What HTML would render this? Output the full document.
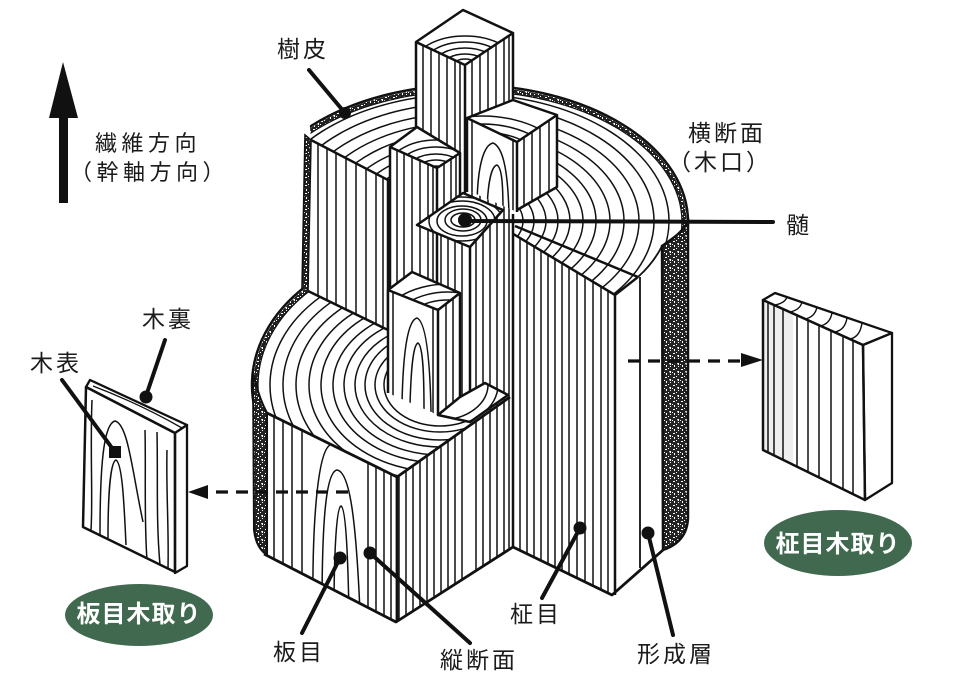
<!DOCTYPE html>
<html><head><meta charset="utf-8">
<style>
html,body{margin:0;padding:0;background:#fff;}
svg{display:block;}
text{font-family:"Liberation Sans","Noto Sans CJK JP",sans-serif;fill:#1b1b1b;}
</style></head><body>
<svg width="972" height="696" viewBox="0 0 972 696" xmlns="http://www.w3.org/2000/svg">
<defs>
<pattern id="stip" width="8" height="8" patternUnits="userSpaceOnUse">
<rect width="8" height="8" fill="#222"/>
<path d="M1,1h2v1h-2z M5,3h2v2h-1z M2,5h1v2h-1z M6,6h1v1h-1z M4,0h1v1h-1z M0,4h1v1h-1z" fill="#fff"/>
</pattern>
<clipPath id="cTop"><polygon points="300,0 972,0 972,696 388,696 388,180 311,140"/></clipPath>
<clipPath id="cLow"><polygon points="225,240 308,291 388,330 388,392 438,415 460,397 485,383 508,395 463,430 397,477 267,413 225,400"/></clipPath>
<clipPath id="cCC"><polygon points="388,240 417,225 470,247 503,210 513,214 513,547 396,622 397,477 388,470"/></clipPath>
<clipPath id="cR2"><polygon points="505,229 615,295 612,595 513,547 513,233"/></clipPath>
<clipPath id="cRF"><polygon points="615,295 638,277 650,265 662,246 662,549 612,595"/></clipPath>
<clipPath id="cTL"><polygon points="416,42 465,65 465,205 416,205"/></clipPath>
<clipPath id="cTR"><polygon points="465,65 513,33 513,214 465,205"/></clipPath>
<clipPath id="cTT"><polygon points="416,42 463,10 513,33 465,65"/></clipPath>
<clipPath id="cML"><polygon points="390,147 437,168 437,300 390,300"/></clipPath>
<clipPath id="cMR"><polygon points="437,168 460,153 460,196 437,211"/></clipPath>
<clipPath id="cMT"><polygon points="390,147 417,127 460,153 437,168"/></clipPath>
<clipPath id="cUL"><polygon points="467,118 517,142 517,212 467,190"/></clipPath>
<clipPath id="cUR"><polygon points="517,142 557,115 557,187 517,210"/></clipPath>
<clipPath id="cUT"><polygon points="467,118 513,100 557,115 517,142"/></clipPath>
<clipPath id="cPi"><polygon points="417,225 463,193 503,210 470,247"/></clipPath>
<clipPath id="cLB"><polygon points="311,140 388,180 388,330 308,291"/></clipPath>
<clipPath id="cPL"><polygon points="388,290 438,310 438,415 388,393"/></clipPath>
<clipPath id="cPR"><polygon points="438,310 460,293 460,397 438,415"/></clipPath>
<clipPath id="cPT"><polygon points="388,290 412,272 460,293 438,310"/></clipPath>
<clipPath id="cLd"><polygon points="438,415 460,397 485,383 508,395 470,422"/></clipPath>
<clipPath id="cF1"><polygon points="267,413 397,477 396,622 264,554"/></clipPath>
<clipPath id="cBL"><polygon points="86,387 175,433 175,572 83,527"/></clipPath>
<clipPath id="cBR"><polygon points="763,300 863,345 865,500 763,450"/></clipPath>
</defs>

<!-- ===== TOP DISC ===== -->
<g clip-path="url(#cTop)">
<ellipse cx="468" cy="222" rx="220" ry="137" fill="#fff" stroke="#111" stroke-width="2.5"/>
<ellipse cx="468" cy="222" rx="216.5" ry="133.5" fill="none" stroke="url(#stip)" stroke-width="4"/>
<ellipse cx="468" cy="222" rx="214" ry="131" fill="none" stroke="#111" stroke-width="1.3"/>
<g fill="none" stroke="#111" stroke-width="1.5">
<ellipse cx="466" cy="221" rx="203" ry="127"/>
<ellipse cx="466" cy="221" rx="188" ry="118"/>
<ellipse cx="466" cy="221" rx="173" ry="108"/>
<ellipse cx="466" cy="221" rx="158" ry="99"/>
<ellipse cx="466" cy="221" rx="144" ry="90"/>
<ellipse cx="466" cy="221" rx="130" ry="81"/>
<ellipse cx="466" cy="221" rx="117" ry="73"/>
<ellipse cx="466" cy="221" rx="104" ry="65"/>
<ellipse cx="466" cy="221" rx="92" ry="58"/>
<ellipse cx="466" cy="221" rx="80" ry="50"/>
<ellipse cx="466" cy="221" rx="68" ry="43"/>
<ellipse cx="466" cy="221" rx="57" ry="36"/>
<ellipse cx="466" cy="221" rx="46" ry="29"/>
</g>
</g>

<!-- ===== RIGHT SIDE FACE + BARK ===== -->
<polygon points="615,295 638,277 650,265 662,246 662,549 612,595" fill="#fff"/>
<path d="M640,277 V568" stroke="#111" stroke-width="1.8" fill="none"/>
<path d="M662,246 C670,240 681,234 688,222 L688,518 Q687,542 663,550 Z" fill="url(#stip)" stroke="#111" stroke-width="2.5"/>
<path d="M638,277 C648,268 656,258 662,246" fill="none" stroke="#111" stroke-width="1.8"/>

<!-- ===== R2 (柾目 face) ===== -->
<polygon points="505,229 615,295 612,595 513,547 513,233" fill="#fff"/>
<g clip-path="url(#cR2)" stroke="#111" stroke-width="1.5" fill="none">
<path d="M520,220V610M527,220V610M534,220V610M541,220V610M548,220V610M555,220V610M562,220V610M569,220V610M577,220V610M585,220V610M593,220V610M601,220V610M608,220V610"/>
</g>
<path d="M505,229 L615,295 L638,277 M515,226 L638,277 M615,295 V595" fill="none" stroke="#111" stroke-width="2.5"/>

<!-- ===== CENTRAL COLUMN ===== -->
<polygon points="388,240 417,225 470,247 503,210 513,214 513,547 396,622 397,477 388,470" fill="#fff"/>
<g clip-path="url(#cCC)" stroke="#111" stroke-width="1.5" fill="none">
<path d="M392,200V630M399,200V630M406,200V630M413,200V630M420,200V630M427,200V630M434,200V630M441,200V630M448,200V630M455,200V630M462,200V630M476,200V630M483,200V630M490,200V630M497,200V630M504,200V630M509,200V630"/>
</g>
<path d="M513,214 V547 M470,247 V400" fill="none" stroke="#111" stroke-width="2.5"/>

<!-- ===== TALL POST T ===== -->
<polygon points="416,42 465,65 465,205 416,205" fill="#fff"/>
<polygon points="465,65 513,33 513,214 465,205" fill="#fff"/>
<polygon points="416,42 463,10 513,33 465,65" fill="#fff"/>
<g stroke="#111" stroke-width="1.5" fill="none">
<path clip-path="url(#cTL)" d="M423,30V220M431,30V220M439,30V220M447,30V220M455,30V220M460,30V220"/>
<path clip-path="url(#cTR)" d="M472,20V220M480,20V220M488,20V220M496,20V220M504,20V220M509,20V220"/>
<g clip-path="url(#cTT)">
<ellipse cx="465" cy="66" rx="12" ry="7"/><ellipse cx="465" cy="66" rx="22" ry="12"/><ellipse cx="465" cy="66" rx="32" ry="18"/><ellipse cx="465" cy="66" rx="42" ry="24"/><ellipse cx="465" cy="66" rx="52" ry="30"/>
</g>
</g>
<path d="M416,42 L463,10 L513,33 L465,65 Z M465,65 V200 M416,42 V130 M513,33 V102" fill="none" stroke="#111" stroke-width="2.5" stroke-linejoin="round"/>

<!-- ===== MIDDLE-LEFT POST ===== -->
<polygon points="390,147 437,168 437,300 390,300" fill="#fff"/>
<polygon points="437,168 460,153 460,196 437,211" fill="#fff"/>
<polygon points="390,147 417,127 460,153 437,168" fill="#fff"/>
<g stroke="#111" stroke-width="1.5" fill="none">
<path clip-path="url(#cML)" d="M397,140V310M404,140V310M412,140V310M420,140V310M428,140V310M433,140V310"/>
<path clip-path="url(#cMR)" d="M444,140V220M451,140V220M456,140V220"/>
<g clip-path="url(#cMT)">
<ellipse cx="436" cy="172" rx="10" ry="6"/><ellipse cx="436" cy="172" rx="20" ry="12"/><ellipse cx="436" cy="172" rx="30" ry="18"/><ellipse cx="436" cy="172" rx="40" ry="25"/><ellipse cx="436" cy="172" rx="50" ry="32"/>
</g>
</g>
<path d="M390,147 L417,127 L460,153 L437,168 Z M390,147 V290 M437,168 V300 M460,153 V196" fill="none" stroke="#111" stroke-width="2.5" stroke-linejoin="round"/>

<!-- ===== UPPER-RIGHT POST ===== -->
<polygon points="467,118 517,142 517,212 467,190" fill="#fff"/>
<polygon points="517,142 557,115 557,187 517,210" fill="#fff"/>
<polygon points="467,118 513,100 557,115 517,142" fill="#fff"/>
<g stroke="#111" stroke-width="1.5" fill="none">
<path clip-path="url(#cUL)" d="M472,110V220M513,110V220M477,210 C477,165 484,145 493,143 C503,147 508,170 509,215 M487,210 C488,180 492,166 497,165 C502,168 503,185 503,212"/>
<path clip-path="url(#cUR)" d="M524,100V220M532,100V220M540,100V220M549,100V220"/>
<g clip-path="url(#cUT)">
<ellipse cx="482" cy="170" rx="40" ry="24"/><ellipse cx="482" cy="170" rx="52" ry="31"/><ellipse cx="482" cy="170" rx="64" ry="38"/><ellipse cx="482" cy="170" rx="76" ry="46"/><ellipse cx="482" cy="170" rx="88" ry="54"/>
</g>
</g>
<path d="M467,118 L513,100 L557,115 L517,142 Z M467,118 V192 M517,142 V212 M557,115 V187 L517,210" fill="none" stroke="#111" stroke-width="2.5" stroke-linejoin="round"/>

<!-- ===== PITH ===== -->
<polygon points="417,225 463,193 503,210 470,247" fill="#fff"/>
<g clip-path="url(#cPi)" stroke="#111" stroke-width="1.5" fill="none">
<ellipse cx="463" cy="220" rx="12" ry="7"/><ellipse cx="463" cy="220" rx="18" ry="11"/><ellipse cx="462" cy="221" rx="25" ry="15"/><ellipse cx="462" cy="221" rx="33" ry="20"/><ellipse cx="461" cy="222" rx="42" ry="25"/><ellipse cx="460" cy="222" rx="52" ry="31"/>
</g>
<polygon points="417,225 463,193 503,210 470,247" fill="none" stroke="#111" stroke-width="2.5" stroke-linejoin="round"/>

<!-- ===== LEFT UPPER BLOCK ===== -->
<polygon points="311,140 388,180 388,330 308,291" fill="#fff"/>
<path clip-path="url(#cLB)" d="M318,130V340M327,130V340M336,130V340M346,130V340M356,130V340M366,130V340M376,130V340M383,130V340" stroke="#111" stroke-width="1.5" fill="none"/>
<polygon points="305,135 311,140 308,291 302,288" fill="url(#stip)" stroke="#111" stroke-width="1.6"/>
<path d="M311,140 L388,180 V330" fill="none" stroke="#111" stroke-width="2.5"/>

<!-- ===== LOWER DISC ===== -->
<g clip-path="url(#cLow)">
<ellipse cx="440" cy="385" rx="188" ry="141" fill="#fff" stroke="#111" stroke-width="2.5"/>
<ellipse cx="440" cy="385" rx="184.5" ry="137.5" fill="none" stroke="url(#stip)" stroke-width="4"/>
<ellipse cx="440" cy="385" rx="182" ry="135" fill="none" stroke="#111" stroke-width="1.3"/>
<g fill="none" stroke="#111" stroke-width="1.5">
<ellipse cx="440" cy="385" rx="170" ry="124"/>
<ellipse cx="440" cy="385" rx="157" ry="115"/>
<ellipse cx="440" cy="385" rx="144" ry="105"/>
<ellipse cx="440" cy="385" rx="131" ry="96"/>
<ellipse cx="440" cy="385" rx="119" ry="87"/>
<ellipse cx="440" cy="385" rx="107" ry="78"/>
<ellipse cx="440" cy="385" rx="96" ry="70"/>
<ellipse cx="440" cy="385" rx="85" ry="62"/>
<ellipse cx="440" cy="385" rx="75" ry="55"/>
<ellipse cx="440" cy="385" rx="65" ry="47"/>
<ellipse cx="440" cy="385" rx="56" ry="41"/>
</g>
</g>
<path d="M308,291 L388,330" fill="none" stroke="#111" stroke-width="2.5"/>

<!-- ===== LOWER POST ===== -->
<polygon points="388,290 438,310 438,415 388,393" fill="#fff"/>
<polygon points="438,310 460,293 460,397 438,415" fill="#fff"/>
<polygon points="388,290 412,272 460,293 438,310" fill="#fff"/>
<g stroke="#111" stroke-width="1.5" fill="none">
<path clip-path="url(#cPL)" d="M393,280V420M433,280V420M402,405 C403,350 408,320 417,318 C426,322 430,360 431,412 M410,405 C411,370 413,345 418,343 C423,346 424,375 424,410"/>
<path clip-path="url(#cPR)" d="M446,280V420M453,280V420"/>
<g clip-path="url(#cPT)">
<ellipse cx="448" cy="330" rx="22" ry="14"/><ellipse cx="448" cy="330" rx="34" ry="22"/><ellipse cx="448" cy="330" rx="46" ry="30"/><ellipse cx="448" cy="330" rx="58" ry="38"/><ellipse cx="448" cy="330" rx="70" ry="46"/>
</g>
</g>
<path d="M388,290 L412,272 L460,293 L438,310 Z M388,290 V393 M438,310 V415 M460,293 V397" fill="none" stroke="#111" stroke-width="2.5" stroke-linejoin="round"/>

<!-- ledge -->
<polygon points="438,415 460,397 485,383 508,395 470,422" fill="#fff"/>
<g clip-path="url(#cLd)" stroke="#111" stroke-width="1.5" fill="none">
<ellipse cx="440" cy="385" rx="48" ry="35"/><ellipse cx="440" cy="385" rx="58" ry="42"/><ellipse cx="440" cy="385" rx="68" ry="49"/>
</g>
<polygon points="438,415 460,397 485,383 508,395 470,422" fill="none" stroke="#111" stroke-width="2.5" stroke-linejoin="round"/>

<!-- ===== FRONT-LEFT FACE (板目) ===== -->
<polygon points="267,413 397,477 396,622 264,554" fill="#fff"/>
<g clip-path="url(#cF1)" stroke="#111" stroke-width="1.5" fill="none">
<path d="M274,400V630M283,400V630M292,400V630M302,400V630M368,400V630M376,400V630M384,400V630M391,400V630"/>
<path d="M313,610 C312,520 318,452 330,445 M322,610 C322,520 326,472 337,470 C350,472 356,520 360,612 M334,612 C334,560 336,508 341,506 C346,508 348,560 349,614"/>
</g>
<path d="M253,372 Q258,396 267,413 L267,555 Q256,548 254,530 Z" fill="url(#stip)" stroke="#111" stroke-width="2"/>

<!-- main edges -->
<path d="M267,413 L397,477 L510,397 M397,477 V622 M264,554 L396,622 L513,547 L612,595 L663,550" fill="none" stroke="#111" stroke-width="2.8" stroke-linejoin="round"/>

<!-- ===== LEFT BOARD ===== -->
<polygon points="86,387 175,433 175,572 83,527" fill="#fff"/>
<g clip-path="url(#cBL)" stroke="#111" stroke-width="1.5" fill="none">
<path d="M100,535 C100,470 103,424 115,421 C128,424 132,470 143,522 M108,538 C108,500 110,462 116,460 C122,463 124,500 126,545 M145,430 C146,470 144,520 147,560 M157,432 C158,480 156,520 160,565 M167,450 C166,490 169,530 168,568 M92,400 C90,450 93,500 91,530"/>
</g>
<polygon points="86,387 90,380 187,425 175,433" fill="#fff" stroke="#111" stroke-width="2.3" stroke-linejoin="round"/>
<path d="M93,386 Q140,404 182,428" fill="none" stroke="#111" stroke-width="1.3"/>
<polygon points="175,433 187,425 187,566 175,573" fill="#fff" stroke="#111" stroke-width="2.3" stroke-linejoin="round"/>
<polygon points="86,387 175,433 175,572 83,527" fill="none" stroke="#111" stroke-width="2.5" stroke-linejoin="round"/>

<!-- ===== RIGHT BOARD ===== -->
<polygon points="763,300 863,345 865,500 763,450" fill="#fff"/>
<rect x="763" y="290" width="30" height="180" fill="#eee" clip-path="url(#cBR)"/>
<g clip-path="url(#cBR)" stroke="#111" stroke-width="1.5" fill="none">
<path d="M768,280V520M774,280V520M783,280V520M797,280V520M808,280V520M819,280V520M831,280V520M843,280V520M853,280V520"/>
</g>
<polygon points="763,300 775,293 892,333 863,345" fill="#fff" stroke="#111" stroke-width="2.3" stroke-linejoin="round"/>
<path d="M775,305 Q785,303 787,297 M790,312 Q800,310 802,302 M805,319 Q815,317 817,307 M820,326 Q830,324 832,313 M835,332 Q845,330 847,318 M850,339 Q860,337 862,323" fill="none" stroke="#111" stroke-width="1.4"/>
<polygon points="863,345 892,333 892,483 865,500" fill="#fff" stroke="#111" stroke-width="2.3" stroke-linejoin="round"/>
<polygon points="763,300 863,345 865,500 763,450" fill="none" stroke="#111" stroke-width="2.5" stroke-linejoin="round"/>

<!-- ===== ARROWS ===== -->
<rect x="59" y="116" width="9" height="87" fill="#111"/>
<polygon points="63,62 49,118 78,118" fill="#111"/>
<path d="M348,492 H207" stroke="#111" stroke-width="3.2" stroke-dasharray="12 8" fill="none"/>
<polygon points="188,492 208,485 208,499" fill="#111"/>
<path d="M628,361 H742" stroke="#111" stroke-width="3.2" stroke-dasharray="12 8" fill="none"/>
<polygon points="763,360 741,353 741,367" fill="#111"/>

<!-- ===== LEADER LINES ===== -->
<g stroke="#111" stroke-width="4" fill="none" stroke-linecap="round">
<path d="M309,70 L345,113"/>
<path d="M465,221 L773,222"/>
<path d="M165,340 L146,396"/>
<path d="M62,380 L115,452"/>
<path d="M302,633 L340,558"/>
<path d="M370,553 L470,643"/>
<path d="M542,598 L580,528"/>
<path d="M648,533 L673,635"/>
</g>
<g fill="#111">
<circle cx="345" cy="113" r="6"/>
<circle cx="465" cy="220" r="7"/>
<circle cx="146" cy="397" r="6.5"/>
<rect x="109" y="446" width="12" height="12"/>
<circle cx="340" cy="558" r="6.5"/>
<circle cx="370" cy="553" r="6.5"/>
<circle cx="580" cy="528" r="6.5"/>
<circle cx="648" cy="533" r="6.5"/>
</g>

<!-- ===== LABELS ===== -->
<g font-size="23" letter-spacing="3">
<text x="277" y="57">樹皮</text>
<text x="688" y="141">横断面</text>
<text x="668" y="170">（木口）</text>
<text x="786" y="233">髄</text>
<text x="142" y="327">木裏</text>
<text x="30" y="371">木表</text>
<text x="273" y="660">板目</text>
<text x="440" y="668">縦断面</text>
<text x="510" y="622">柾目</text>
<text x="637" y="662">形成層</text>
</g>
<g font-size="22" letter-spacing="4.5">
<text x="95" y="151">繊維方向</text>
<text x="70" y="180">（幹軸方向）</text>
</g>

<!-- pills -->
<ellipse cx="139" cy="615" rx="74" ry="31" fill="#40694f"/>
<ellipse cx="838" cy="543" rx="74" ry="33" fill="#40694f"/>
<g font-size="24" font-weight="bold" letter-spacing="1" text-anchor="middle">
<text x="139" y="622" style="fill:#fff">板目木取り</text>
<text x="838" y="552" style="fill:#fff">柾目木取り</text>
</g>
</svg>
</body></html>
